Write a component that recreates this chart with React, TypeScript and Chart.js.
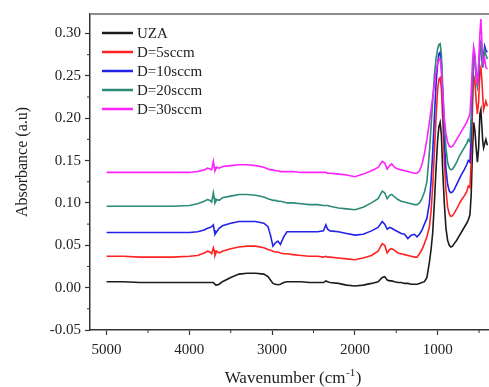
import React, { useEffect, useRef } from "react";
import { Chart, registerables } from "chart.js";

Chart.register(...registerables);

// Wavenumber (cm-1) sample positions shared by every spectrum
const wavenumbers = [
  5000, 4800, 4600, 4400, 4200, 4000, 3900, 3820, 3780, 3750,
  3730, 3710, 3700, 3690, 3670, 3640, 3600, 3500, 3400, 3300,
  3200, 3100, 3050, 3020, 2990, 2960, 2930, 2900, 2860, 2820,
  2750, 2650, 2550, 2450, 2380, 2350, 2330, 2300, 2200, 2100,
  2000, 1900, 1800, 1720, 1670, 1640, 1610, 1580, 1555, 1520,
  1480, 1440, 1400, 1360, 1320, 1280, 1250, 1220, 1190, 1160,
  1130, 1100, 1080, 1060, 1040, 1020, 1000, 985, 970, 955,
  940, 920, 900, 880, 860, 840, 820, 800, 770, 740,
  710, 680, 650, 630, 610, 595, 580, 565, 550, 535,
  520, 505, 490, 478, 466, 455, 445, 432, 418, 400,
];

const uza = [
  0.007, 0.007, 0.006, 0.006, 0.006, 0.006, 0.006, 0.006, 0.006, 0.006,
  0.006, 0.006, 0.005, 0.004, 0.003, 0.004, 0.007, 0.012, 0.016, 0.017,
  0.017, 0.016, 0.013, 0.009, 0.005, 0.004, 0.0035, 0.004, 0.006, 0.007,
  0.007, 0.007, 0.006, 0.006, 0.006, 0.008, 0.007, 0.006, 0.005, 0.003,
  0.002, 0.003, 0.005, 0.007, 0.012, 0.013, 0.009, 0.008, 0.008, 0.007,
  0.006, 0.006, 0.005, 0.005, 0.004, 0.004, 0.004, 0.005, 0.006, 0.007,
  0.012, 0.03, 0.045, 0.065, 0.1, 0.14, 0.175, 0.19, 0.195, 0.18,
  0.14, 0.1, 0.07, 0.056, 0.05, 0.048, 0.049, 0.052, 0.056, 0.061,
  0.066, 0.071, 0.076, 0.08, 0.086, 0.11, 0.16, 0.195, 0.185, 0.165,
  0.148, 0.165, 0.205, 0.21, 0.19, 0.172, 0.165, 0.17, 0.175, 0.168,
];

const d5 = [
  0.037, 0.037, 0.036, 0.036, 0.036, 0.037, 0.038, 0.041, 0.043, 0.042,
  0.04, 0.047, 0.044, 0.038, 0.043, 0.041, 0.043, 0.046, 0.048, 0.049,
  0.049, 0.047, 0.045, 0.044, 0.043, 0.042, 0.042, 0.041, 0.04, 0.04,
  0.039, 0.038, 0.037, 0.037, 0.036, 0.037, 0.036, 0.036, 0.035, 0.034,
  0.033, 0.035, 0.038, 0.043, 0.052, 0.05, 0.041, 0.045, 0.046, 0.044,
  0.041, 0.04, 0.039, 0.038, 0.037, 0.036, 0.036, 0.04, 0.045, 0.052,
  0.06, 0.072, 0.09, 0.12, 0.16, 0.2, 0.235, 0.246, 0.248, 0.235,
  0.2, 0.15, 0.115, 0.095, 0.087, 0.084, 0.085, 0.088, 0.093, 0.099,
  0.104, 0.108, 0.113, 0.12, 0.118, 0.15, 0.21, 0.25, 0.245, 0.22,
  0.205, 0.22, 0.255, 0.26, 0.245, 0.225, 0.21, 0.215, 0.22, 0.214,
];

const d10 = [
  0.065, 0.065, 0.065, 0.065, 0.065, 0.065, 0.066, 0.068, 0.07, 0.071,
  0.072, 0.074, 0.068, 0.063, 0.066, 0.07, 0.073, 0.076, 0.078, 0.078,
  0.078, 0.076, 0.072, 0.062, 0.049, 0.053, 0.055, 0.051, 0.06, 0.066,
  0.066, 0.066, 0.066, 0.066, 0.067, 0.074, 0.069, 0.067, 0.066, 0.064,
  0.062, 0.063, 0.067, 0.071, 0.078, 0.075, 0.069, 0.071, 0.07, 0.068,
  0.066, 0.064, 0.063, 0.058, 0.062, 0.063, 0.06, 0.063, 0.068, 0.075,
  0.082, 0.1, 0.125, 0.16, 0.2, 0.24, 0.265, 0.276, 0.278, 0.265,
  0.225, 0.175, 0.14, 0.122, 0.114, 0.112, 0.113, 0.116, 0.122, 0.128,
  0.134, 0.139, 0.145, 0.15, 0.148, 0.18, 0.24, 0.277, 0.27, 0.25,
  0.238, 0.25, 0.285, 0.29, 0.27, 0.26, 0.275, 0.285, 0.28, 0.278,
];

const d20 = [
  0.096, 0.096, 0.096, 0.096, 0.096, 0.097, 0.099, 0.102, 0.104, 0.103,
  0.101, 0.112, 0.106, 0.1, 0.104, 0.103, 0.106, 0.108, 0.11, 0.11,
  0.109, 0.107, 0.105, 0.104, 0.103, 0.103, 0.102, 0.102, 0.101, 0.1,
  0.1, 0.099, 0.098, 0.098, 0.097, 0.097, 0.097, 0.096, 0.094, 0.093,
  0.092, 0.095, 0.1, 0.105, 0.114, 0.112, 0.105, 0.109, 0.11, 0.107,
  0.104, 0.102, 0.101, 0.1, 0.099, 0.098, 0.098, 0.1, 0.105, 0.113,
  0.125, 0.16, 0.19, 0.22, 0.25, 0.27, 0.282, 0.287, 0.288, 0.275,
  0.24, 0.195, 0.165, 0.148, 0.141, 0.139, 0.14, 0.143, 0.148, 0.155,
  0.16, 0.165, 0.17, 0.175, 0.172, 0.2, 0.245, 0.27, 0.265, 0.25,
  0.24, 0.255, 0.28, 0.29, 0.275, 0.265, 0.27, 0.28, 0.275, 0.27,
];

const d30 = [
  0.136, 0.136, 0.136, 0.136, 0.136, 0.136, 0.137, 0.139, 0.141, 0.14,
  0.139, 0.149, 0.143, 0.138, 0.142, 0.141, 0.143, 0.144, 0.145, 0.145,
  0.144, 0.142, 0.14, 0.139, 0.139, 0.138, 0.138, 0.137, 0.137, 0.137,
  0.137, 0.136, 0.136, 0.136, 0.136, 0.136, 0.135, 0.135, 0.134, 0.133,
  0.131, 0.134, 0.138, 0.142, 0.149, 0.147, 0.14, 0.144, 0.146, 0.142,
  0.14, 0.139, 0.138, 0.137, 0.136, 0.135, 0.135, 0.138, 0.145, 0.158,
  0.175, 0.195, 0.21, 0.225, 0.24, 0.255, 0.265, 0.27, 0.27, 0.255,
  0.23, 0.2, 0.182, 0.172, 0.167, 0.166, 0.167, 0.17, 0.175, 0.18,
  0.185, 0.19, 0.195, 0.2, 0.205, 0.23, 0.265, 0.284, 0.275, 0.255,
  0.24, 0.265, 0.3, 0.317, 0.29, 0.27, 0.265, 0.27, 0.26, 0.258,
];

const seriesLabels = ["UZA", "D=5sccm", "D=10sccm", "D=20sccm", "D=30sccm"];
const seriesColors = ["#1c1c1c", "#ff2222", "#2222e8", "#2b8a78", "#ff22ff"];

const xMajorTicks = [1000, 2000, 3000, 4000, 5000];
const yMajorTicks = [-0.05, 0, 0.05, 0.1, 0.15, 0.2, 0.25, 0.3];
const xMinorTicks = [500, 1500, 2500, 3500, 4500];
const yMinorTicks = [-0.025, 0.025, 0.075, 0.125, 0.175, 0.225, 0.275];

const xTitle = "Wavenumber (cm";
const xTitleSup = "-1";
const yTitle = "Absorbance (a.u)";

const SERIF = '"Liberation Serif", "DejaVu Serif", serif';

const overlayPlugin = {
  id: "overlay",
  afterDraw(chart: any) {
    const ctx = chart.ctx as CanvasRenderingContext2D;
    const { left, right, top, bottom } = chart.chartArea;
    const xs = chart.scales.x;
    const ys = chart.scales.y;
    ctx.save();
    // top frame line
    ctx.strokeStyle = "#8c8c8c";
    ctx.lineWidth = 2;
    ctx.beginPath();
    ctx.moveTo(left, top);
    ctx.lineTo(right, top);
    ctx.stroke();
    // minor ticks
    ctx.strokeStyle = "#333";
    ctx.lineWidth = 1;
    ctx.beginPath();
    for (const v of xMinorTicks) {
      const px = xs.getPixelForValue(v);
      if (px < left || px > right) continue;
      ctx.moveTo(px, bottom);
      ctx.lineTo(px, bottom + 3);
    }
    for (const v of yMinorTicks) {
      const py = ys.getPixelForValue(v);
      if (py < top || py > bottom) continue;
      ctx.moveTo(left, py);
      ctx.lineTo(left - 3, py);
    }
    ctx.stroke();
    // legend
    ctx.font = `15px ${SERIF}`;
    ctx.textBaseline = "middle";
    ctx.textAlign = "left";
    seriesLabels.forEach((lab, i) => {
      const y = 33 + i * 19;
      ctx.strokeStyle = seriesColors[i];
      ctx.lineWidth = 2.5;
      ctx.beginPath();
      ctx.moveTo(102, y);
      ctx.lineTo(133, y);
      ctx.stroke();
      ctx.fillStyle = "#222";
      ctx.fillText(lab, 137, y + 1);
    });
    // x title with superscript
    ctx.fillStyle = "#222";
    ctx.textBaseline = "alphabetic";
    ctx.font = `17px ${SERIF}`;
    const w1 = ctx.measureText(xTitle).width;
    const w3 = ctx.measureText(")").width;
    ctx.font = `11px ${SERIF}`;
    const w2 = ctx.measureText(xTitleSup).width;
    const total = w1 + w2 + w3 + 1;
    let x0 = 293 - total / 2;
    const base = 383;
    ctx.font = `17px ${SERIF}`;
    ctx.fillText(xTitle, x0, base);
    x0 += w1;
    ctx.font = `11px ${SERIF}`;
    ctx.fillText(xTitleSup, x0 + 0.5, base - 7);
    x0 += w2 + 1;
    ctx.font = `17px ${SERIF}`;
    ctx.fillText(")", x0, base);
    // y title
    ctx.save();
    ctx.translate(23, 162);
    ctx.rotate(-Math.PI / 2);
    ctx.textAlign = "center";
    ctx.textBaseline = "middle";
    ctx.font = `16px ${SERIF}`;
    ctx.fillText(yTitle, 0, 0);
    ctx.restore();
    ctx.restore();
  },
};

export default function App() {
  const ref = useRef<HTMLCanvasElement>(null);
  useEffect(() => {
    document.body.style.margin = "0";
    const series = [uza, d5, d10, d20, d30];
    const chart = new Chart(ref.current as HTMLCanvasElement, {
      type: "line",
      data: {
        datasets: series.map((vals, i) => ({
          label: seriesLabels[i],
          data: wavenumbers.map((x, j) => ({ x, y: vals[j] })),
          borderColor: seriesColors[i],
          backgroundColor: seriesColors[i],
          borderWidth: 1.6,
          pointRadius: 0,
          fill: false,
          tension: 0,
          order: series.length - i,
        })),
      },
      options: {
        responsive: false,
        animation: false,
        layout: { padding: { top: 14, left: 0, right: 0, bottom: 0 } },
        plugins: { legend: { display: false }, tooltip: { enabled: false } },
        scales: {
          x: {
            type: "linear",
            reverse: true,
            min: 380,
            max: 5200,
            afterBuildTicks: (s: any) => {
              s.ticks = xMajorTicks.map((v) => ({ value: v }));
            },
            afterFit: (s: any) => {
              s.height = 57;
              s.paddingLeft = 0;
              s.paddingRight = 0;
            },
            ticks: {
              autoSkip: false,
              maxRotation: 0,
              padding: 6,
              color: "#222",
              font: { family: SERIF, size: 15 },
              callback: (v: any) => String(v),
            },
            grid: {
              drawOnChartArea: false,
              drawTicks: true,
              tickLength: 5,
              tickColor: "#333",
              tickWidth: 1.2,
            },
            border: { color: "#333", width: 1.5 },
          },
          y: {
            type: "linear",
            min: -0.05,
            max: 0.323,
            afterBuildTicks: (s: any) => {
              s.ticks = yMajorTicks.map((v) => ({ value: v }));
            },
            afterFit: (s: any) => {
              s.width = 90;
              s.paddingTop = 0;
              s.paddingBottom = 0;
            },
            ticks: {
              autoSkip: false,
              padding: 4,
              color: "#222",
              font: { family: SERIF, size: 15 },
              callback: (v: any) => Number(v).toFixed(2),
            },
            grid: {
              drawOnChartArea: false,
              drawTicks: true,
              tickLength: 5,
              tickColor: "#333",
              tickWidth: 1.2,
            },
            border: { color: "#333", width: 1.5 },
          },
        },
      },
      plugins: [overlayPlugin],
    });
    return () => chart.destroy();
  }, []);
  return (
    <div style={{ position: "absolute", left: 0, top: 0, width: 489, height: 387, background: "#fff" }}>
      <canvas ref={ref} width={489} height={387} style={{ width: 489, height: 387, display: "block" }} />
    </div>
  );
}
